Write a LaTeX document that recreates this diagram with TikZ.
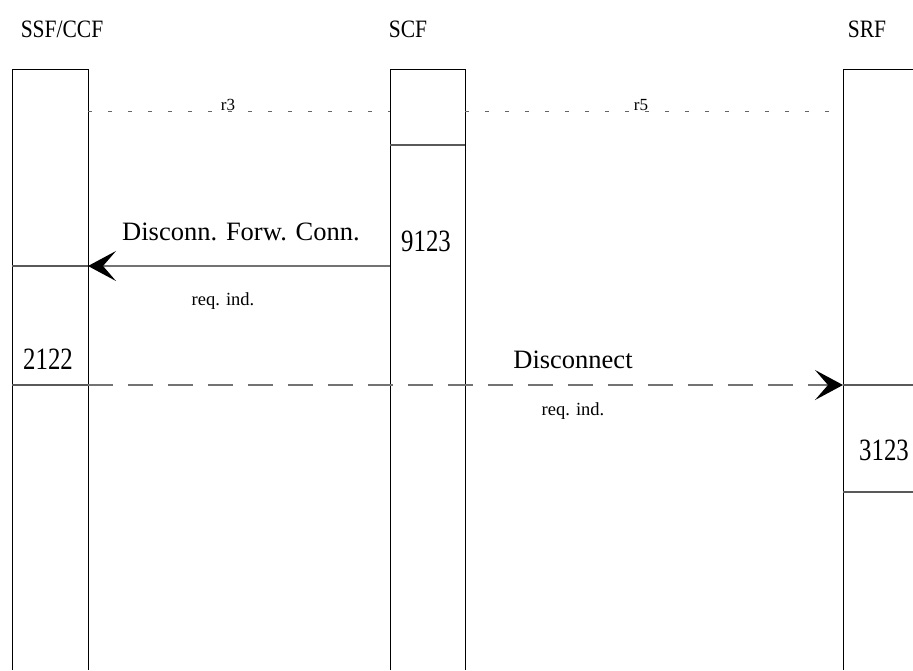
\documentclass[tikz,border=0pt]{standalone}
\usepackage{fontspec}
\setmainfont{Liberation Serif}
\newfontfamily\condfont[FakeStretch=0.8]{Liberation Serif}
\newfontfamily\titlefont[FakeStretch=0.86]{Liberation Serif}
\usetikzlibrary{arrows.meta}
\begin{document}
\begin{tikzpicture}[x=1pt,y=-1pt,
  life/.style={draw=black,line width=1pt},
  divider/.style={draw=black!65,line width=1.2pt},
  title/.style={font=\titlefont\fontsize{25}{28}\selectfont,anchor=base},
  msgtxt/.style={font=\fontsize{26.5}{30}\selectfont,anchor=base},
  small/.style={font=\fontsize{18.5}{21}\selectfont,anchor=base},
  rlab/.style={font=\fontsize{17}{20}\selectfont,anchor=base},
  num/.style={font=\condfont\fontsize{31}{33}\selectfont,anchor=base},
  msg/.style={draw=black!55,line width=1.3pt,-{Stealth[length=28pt,width=30pt,inset=13pt,black]}},
  dmsg/.style={msg,dash pattern=on 25pt off 15pt},
  rel/.style={draw=black!60,line width=1pt,dash pattern=on 4pt off 16pt}]
\useasboundingbox (0,0) rectangle (913,670);
% titles
\node[title] (tssf) at (62,37) {SSF/CCF};
\node[title] (tscf) at (408,37) {SCF};
\node[title] (tsrf) at (867,37) {SRF};
% columns
\draw[life] (12,670) -- (12,69) -- (88,69) -- (88,670);
\draw[life] (390,670) -- (390,69) -- (465,69) -- (465,670);
\draw[life] (843,670) -- (843,69) -- (913,69);
% named points on lifelines
\coordinate (ssfR111) at (88,111);
\coordinate (scfL111) at (390,111);
\coordinate (scfR111) at (465,111);
\coordinate (srfL111) at (843,111);
\coordinate (scfL266) at (390,266);
\coordinate (ssfR266) at (88,266);
\coordinate (ssfL266) at (12,266);
\coordinate (ssfR385) at (88,385);
\coordinate (ssfL385) at (12,385);
\coordinate (srfL385) at (843,385);
\coordinate (srfR385) at (913,385);
% relation lines
\draw[rel] (ssfR111) -- (scfL111);
\draw[rel] (scfR111) -- (srfL111);
\node[rlab] (r3) at (228,110) {r3};
\node[rlab] (r5) at (641,110) {r5};
% dividers
\draw[divider] (390,145) -- (465,145);
\draw[divider] (ssfL266) -- (ssfR266);
\draw[divider] (ssfL385) -- (ssfR385);
\draw[divider] (srfL385) -- (srfR385);
\draw[divider] (843,492) -- (913,492);
% messages
\draw[msg] (scfL266) -- (ssfR266);
\node[msgtxt] (m1) at (241,240) {Disconn. Forw. Conn.};
\node[small] (m1b) at (223,305) {req. ind.};
\node[num] (n9123) at (426,251) {9123};
\node[num] (n2122) at (48,369) {2122};
\draw[dmsg] (ssfR385) -- (srfL385);
\node[msgtxt] (m2) at (573,368) {Disconnect};
\node[small] (m2b) at (573,415) {req. ind.};
\node[num] (n3123) at (884,460) {3123};
\end{tikzpicture}
\end{document}
